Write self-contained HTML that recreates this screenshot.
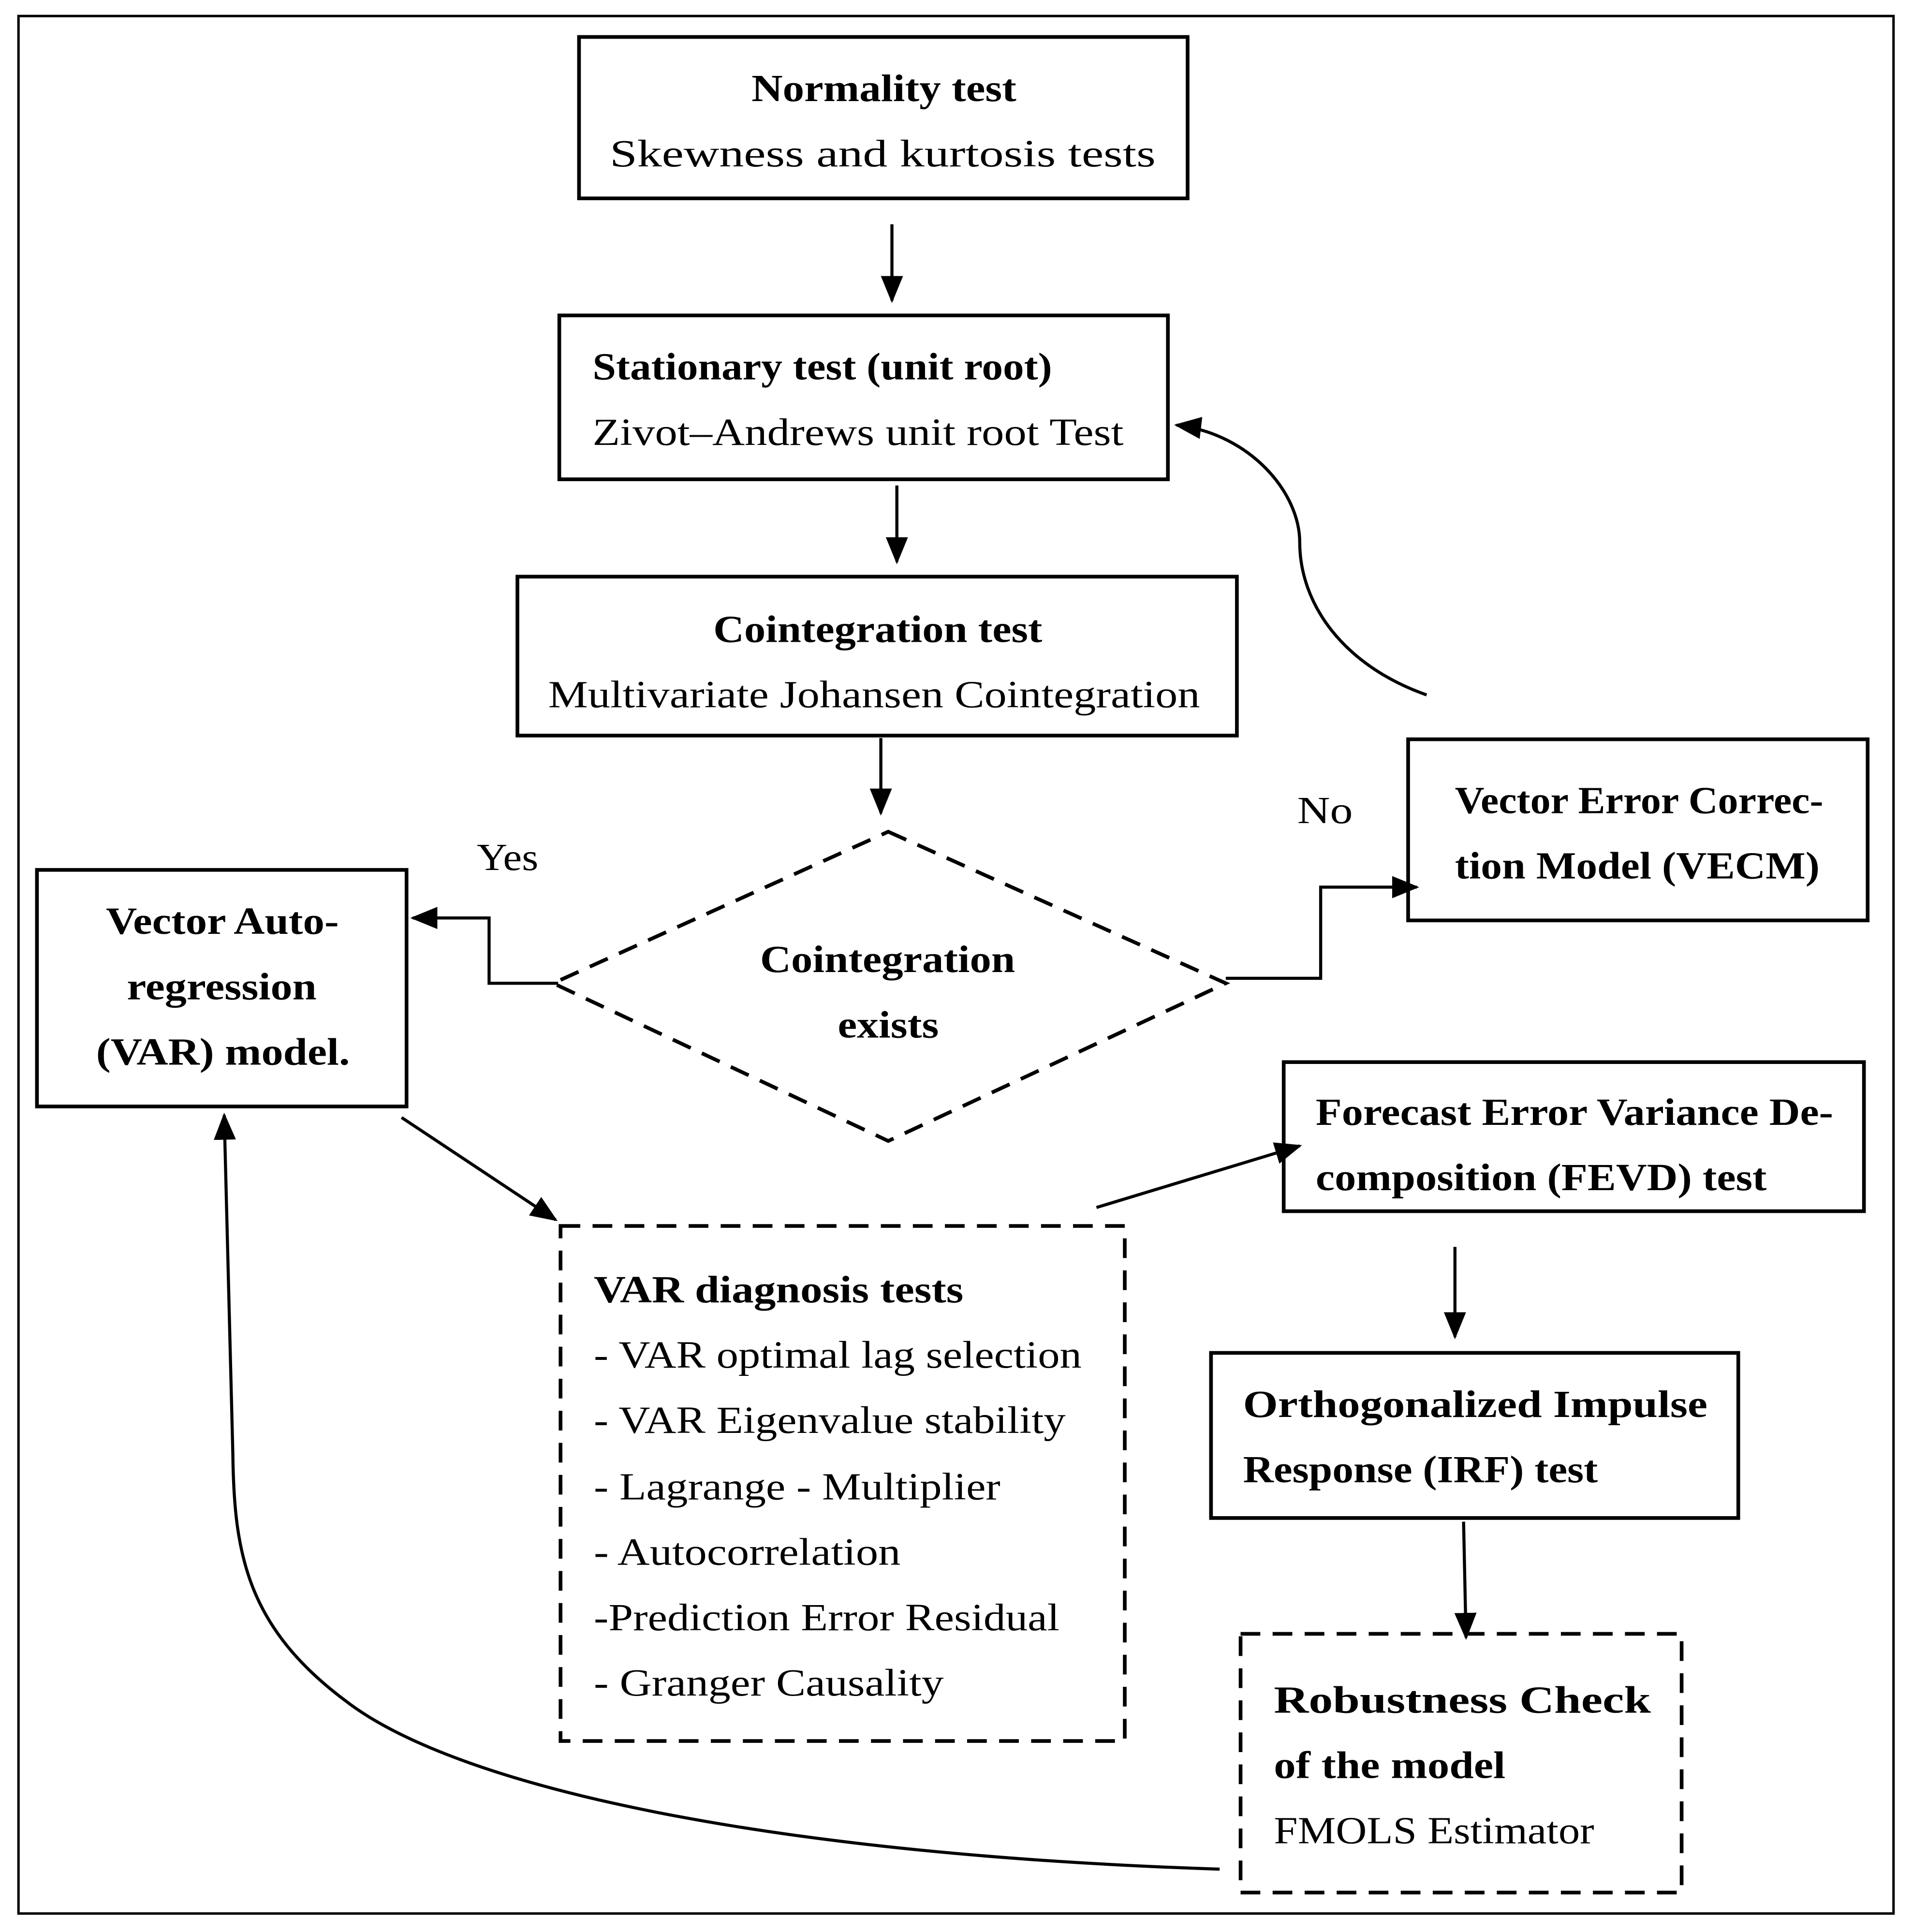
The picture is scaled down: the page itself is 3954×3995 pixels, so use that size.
<!DOCTYPE html>
<html><head><meta charset="utf-8"><style>
html,body{margin:0;padding:0;background:#fff;}
svg{display:block;}
text{font-family:"Liberation Serif",serif;font-size:31px;fill:#000;}
.b{font-weight:bold;}
</style></head><body>
<svg width="3954" height="3995" viewBox="0 0 1552 1568" preserveAspectRatio="none" xmlns="http://www.w3.org/2000/svg">
<defs>
<marker id="ah" markerWidth="22" markerHeight="18" refX="20" refY="9" orient="auto" markerUnits="userSpaceOnUse"><path d="M0,0 L22,9 L0,18 z" fill="#000"/></marker></defs>
<g fill="none" stroke="#000" stroke-width="2.5">
<rect x="15" y="13" width="1522" height="1540" stroke-width="2"/>
<rect x="470" y="30" width="494" height="131" stroke-width="3"/>
<rect x="454" y="256" width="494" height="133" stroke-width="3"/>
<rect x="420" y="468" width="584" height="129" stroke-width="3"/>
<rect x="30" y="706" width="300" height="192" stroke-width="3"/>
<rect x="1143" y="600" width="373" height="147" stroke-width="3"/>
<rect x="1042" y="862" width="471" height="121" stroke-width="3"/>
<rect x="983" y="1098" width="428" height="134" stroke-width="3"/>
<rect x="455" y="995" width="458" height="418" stroke-width="3" stroke-dasharray="16,10"/>
<rect x="1007" y="1326" width="358" height="210" stroke-width="3" stroke-dasharray="16,10"/>
<path d="M721,675 L995,798 L721,926 L449,798 Z" stroke-width="3" stroke-dasharray="16,10"/>
<path d="M724,182 L724,244" marker-end="url(#ah)"/>
<path d="M728,394 L728,456" marker-end="url(#ah)"/>
<path d="M715,599 L715,660" marker-end="url(#ah)"/>
<path d="M453,798 L397,798 L397,745 L335,745" marker-end="url(#ah)"/>
<path d="M995,794 L1072,794 L1072,720 L1150,720" marker-end="url(#ah)"/>
<path d="M1158,564 C1090,540 1055,490 1055,440 C1055,400 1015,352 955,345" marker-end="url(#ah)"/>
<path d="M326,907 L451,990" marker-end="url(#ah)"/>
<path d="M890,980 L1055,930" marker-end="url(#ah)"/>
<path d="M1181,1012 L1181,1085" marker-end="url(#ah)"/>
<path d="M1188,1235 L1190,1329" marker-end="url(#ah)"/>
<path d="M990,1517 C620,1505 370,1450 280,1380 C200,1320 190,1260 189,1180 L182,905" marker-end="url(#ah)"/>
</g>
<g lengthAdjust="spacingAndGlyphs">
<text class="b" x="610" y="82" textLength="215" lengthAdjust="spacingAndGlyphs">Normality test</text>
<text x="495" y="135" textLength="443" lengthAdjust="spacingAndGlyphs">Skewness   and   kurtosis   tests</text>
<text class="b" x="481" y="308" textLength="373" lengthAdjust="spacingAndGlyphs">Stationary test (unit root)</text>
<text x="481" y="361" textLength="431" lengthAdjust="spacingAndGlyphs">Zivot–Andrews unit root Test</text>
<text class="b" x="579" y="521" textLength="267" lengthAdjust="spacingAndGlyphs">Cointegration test</text>
<text x="445" y="574" textLength="529" lengthAdjust="spacingAndGlyphs">Multivariate Johansen Cointegration</text>
<text x="1053" y="668" textLength="45" lengthAdjust="spacingAndGlyphs">No</text>
<text x="387" y="706" textLength="50" lengthAdjust="spacingAndGlyphs">Yes</text>
<text class="b" x="1181" y="660" textLength="299" lengthAdjust="spacingAndGlyphs">Vector Error Correc-</text>
<text class="b" x="1181" y="713" textLength="296" lengthAdjust="spacingAndGlyphs">tion Model (VECM)</text>
<text class="b" x="86" y="758" textLength="189" lengthAdjust="spacingAndGlyphs">Vector Auto-</text>
<text class="b" x="103" y="811" textLength="154" lengthAdjust="spacingAndGlyphs">regression</text>
<text class="b" x="78" y="864" textLength="206" lengthAdjust="spacingAndGlyphs">(VAR) model.</text>
<text class="b" x="617" y="789" textLength="207" lengthAdjust="spacingAndGlyphs">Cointegration</text>
<text class="b" x="680" y="842" textLength="82" lengthAdjust="spacingAndGlyphs">exists</text>
<text class="b" x="1068" y="913" textLength="420" lengthAdjust="spacingAndGlyphs">Forecast Error Variance De-</text>
<text class="b" x="1068" y="966" textLength="366" lengthAdjust="spacingAndGlyphs">composition (FEVD) test</text>
<text class="b" x="482" y="1057" textLength="300" lengthAdjust="spacingAndGlyphs">VAR diagnosis tests</text>
<text x="482" y="1110" textLength="396" lengthAdjust="spacingAndGlyphs">- VAR optimal lag selection</text>
<text x="482" y="1163" textLength="383" lengthAdjust="spacingAndGlyphs">- VAR Eigenvalue stability</text>
<text x="482" y="1217" textLength="330" lengthAdjust="spacingAndGlyphs">- Lagrange - Multiplier</text>
<text x="482" y="1270" textLength="249" lengthAdjust="spacingAndGlyphs">- Autocorrelation</text>
<text x="482" y="1323" textLength="378" lengthAdjust="spacingAndGlyphs">-Prediction Error Residual</text>
<text x="482" y="1376" textLength="284" lengthAdjust="spacingAndGlyphs">- Granger Causality</text>
<text class="b" x="1009" y="1150" textLength="377" lengthAdjust="spacingAndGlyphs">Orthogonalized  Impulse</text>
<text class="b" x="1009" y="1203" textLength="288" lengthAdjust="spacingAndGlyphs">Response (IRF) test</text>
<text class="b" x="1034" y="1390" textLength="306" lengthAdjust="spacingAndGlyphs">Robustness     Check</text>
<text class="b" x="1034" y="1443" textLength="188" lengthAdjust="spacingAndGlyphs">of the model</text>
<text x="1034" y="1496" textLength="260" lengthAdjust="spacingAndGlyphs">FMOLS Estimator</text>
</g>
</svg>
</body></html>
